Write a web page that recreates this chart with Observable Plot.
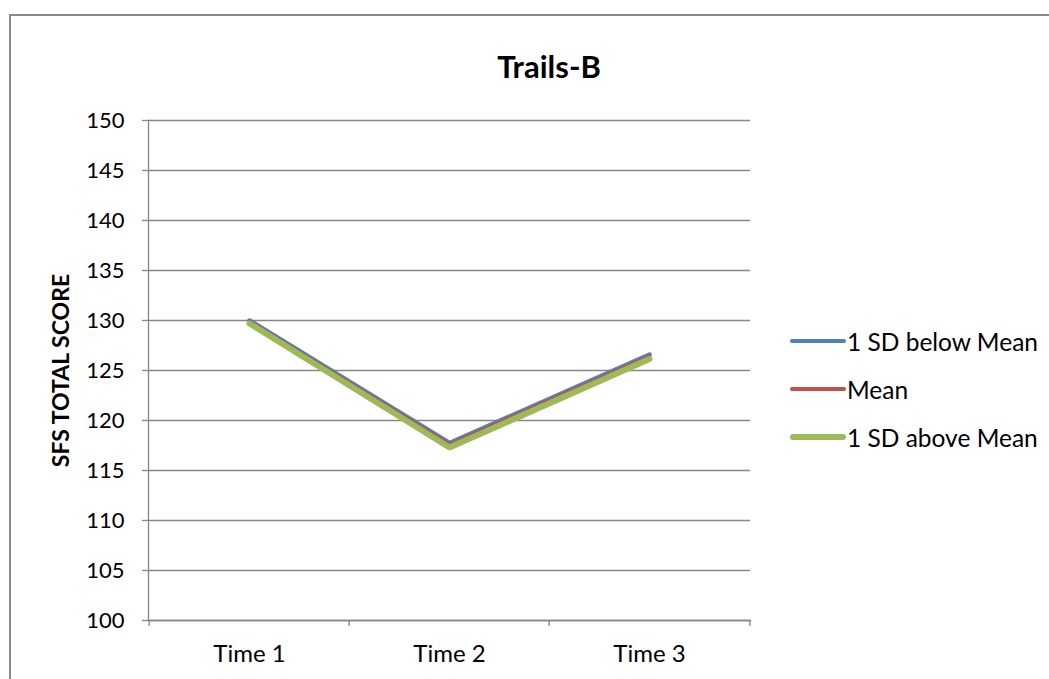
<!DOCTYPE html>
<html>
<head>
<meta charset="utf-8">
<script src="https://cdn.jsdelivr.net/npm/d3@7"></script>
<script src="https://cdn.jsdelivr.net/npm/@observablehq/plot@0.6"></script>
<style>
  html, body { margin: 0; padding: 0; background: #fff; }
  #wrap { position: relative; width: 1049px; height: 679px; overflow: hidden; font-family: Lato, "Open Sans", sans-serif; }
  #frame { position: absolute; left: 9px; top: 14px; width: 1100px; height: 700px; border-left: 2px solid #898989; border-top: 2px solid #898989; }
  #title { position: absolute; left: 0; width: 1098px; top: 47px; text-align: center; font-weight: bold; font-size: 31px; color: #000; }
  #chart { position: absolute; left: 0; top: 0; }
  .leg { position: absolute; left: 790px; display: flex; align-items: center; font-size: 24.5px; color: #000; white-space: nowrap; }
  .leg .sw { width: 56px; border-radius: 4px; margin-right: 1px; }
</style>
</head>
<body>
<div id="wrap">
  <div id="frame"></div>
  <div id="chart"></div>
  <div id="title">Trails-B</div>
  <div id="legend"></div>
</div>
<script>
const categories = ["Time 1", "Time 2", "Time 3"];
const seriesNames = ["1 SD below Mean", "Mean", "1 SD above Mean"];
const below = [130.0, 117.75, 126.6];
const mean = [129.9, 117.6, 126.45];
const above = [129.7, 117.3, 126.15];
const yTicks = [100, 105, 110, 115, 120, 125, 130, 135, 140, 145, 150];
const colors = ["#4F81BD", "#C0504D", "#9BBB59"];
const widths = [4.5, 3.5, 6];
const legendWidths = [4.5, 4, 6];

const seriesValues = [below, mean, above];
const data = [];
seriesNames.forEach((s, si) => categories.forEach((c, ci) => data.push({series: s, time: c, value: seriesValues[si][ci]})));

const W = 1049, H = 679;
const mL = 148, mR = 299, mT = 120, mB = 59;
const step = (W - mL - mR) / categories.length;

const lineMarks = seriesNames.map((s, i) =>
  Plot.line(data.filter(d => d.series === s), {
    x: "time", y: "value", stroke: colors[i], strokeWidth: widths[i],
    strokeLinecap: "round", strokeLinejoin: "miter"
  })
);

const chart = Plot.plot({
  width: W, height: H,
  marginLeft: mL, marginRight: mR, marginTop: mT, marginBottom: mB,
  style: { fontFamily: "Lato, 'Open Sans', sans-serif", fontSize: "22px", color: "#000", background: "transparent" },
  x: { type: "point", domain: categories, padding: 0.5 },
  y: { domain: [100, 150] },
  marks: [
    Plot.gridY(yTicks, { stroke: "#868686", strokeOpacity: 1, strokeWidth: 1.3 }),
    Plot.axisY(yTicks, { tickSize: 6, tickPadding: 18, stroke: "#868686", strokeWidth: 1.3, label: null, fontSize: 22, fill: "#000" }),
    Plot.axisX({ tickSize: 0, tickPadding: 24, label: null, fontSize: 24, fill: "#000" }),
    Plot.ruleX(categories, { x: d => d, dx: -step / 2, y1: 100, y2: 100, insetBottom: -6, stroke: "#868686", strokeWidth: 1.3 }),
    Plot.ruleX(categories.slice(-1), { x: d => d, dx: step / 2, y1: 100, y2: 100, insetBottom: -6, stroke: "#868686", strokeWidth: 1.3 }),
    Plot.frame({ anchor: "left", stroke: "#868686", strokeWidth: 1.3 }),
    Plot.frame({ anchor: "bottom", stroke: "#868686", strokeWidth: 1.3 }),
    Plot.text(["SFS TOTAL SCORE"], { frameAnchor: "left", textAnchor: "middle", dx: -87, rotate: -90, fontWeight: "bold", fontSize: 23, fill: "#000" }),
    ...lineMarks
  ]
});
document.getElementById("chart").appendChild(chart);

const legend = document.getElementById("legend");
const legY = [341, 389, 437];
seriesNames.forEach((s, i) => {
  const row = document.createElement("div");
  row.className = "leg";
  row.style.top = (legY[i] - 15) + "px";
  row.style.height = "30px";
  const sw = document.createElement("div");
  sw.className = "sw";
  sw.style.height = legendWidths[i] + "px";
  sw.style.background = colors[i];
  row.appendChild(sw);
  const t = document.createElement("span");
  t.textContent = s;
  row.appendChild(t);
  legend.appendChild(row);
});
</script>
</body>
</html>
